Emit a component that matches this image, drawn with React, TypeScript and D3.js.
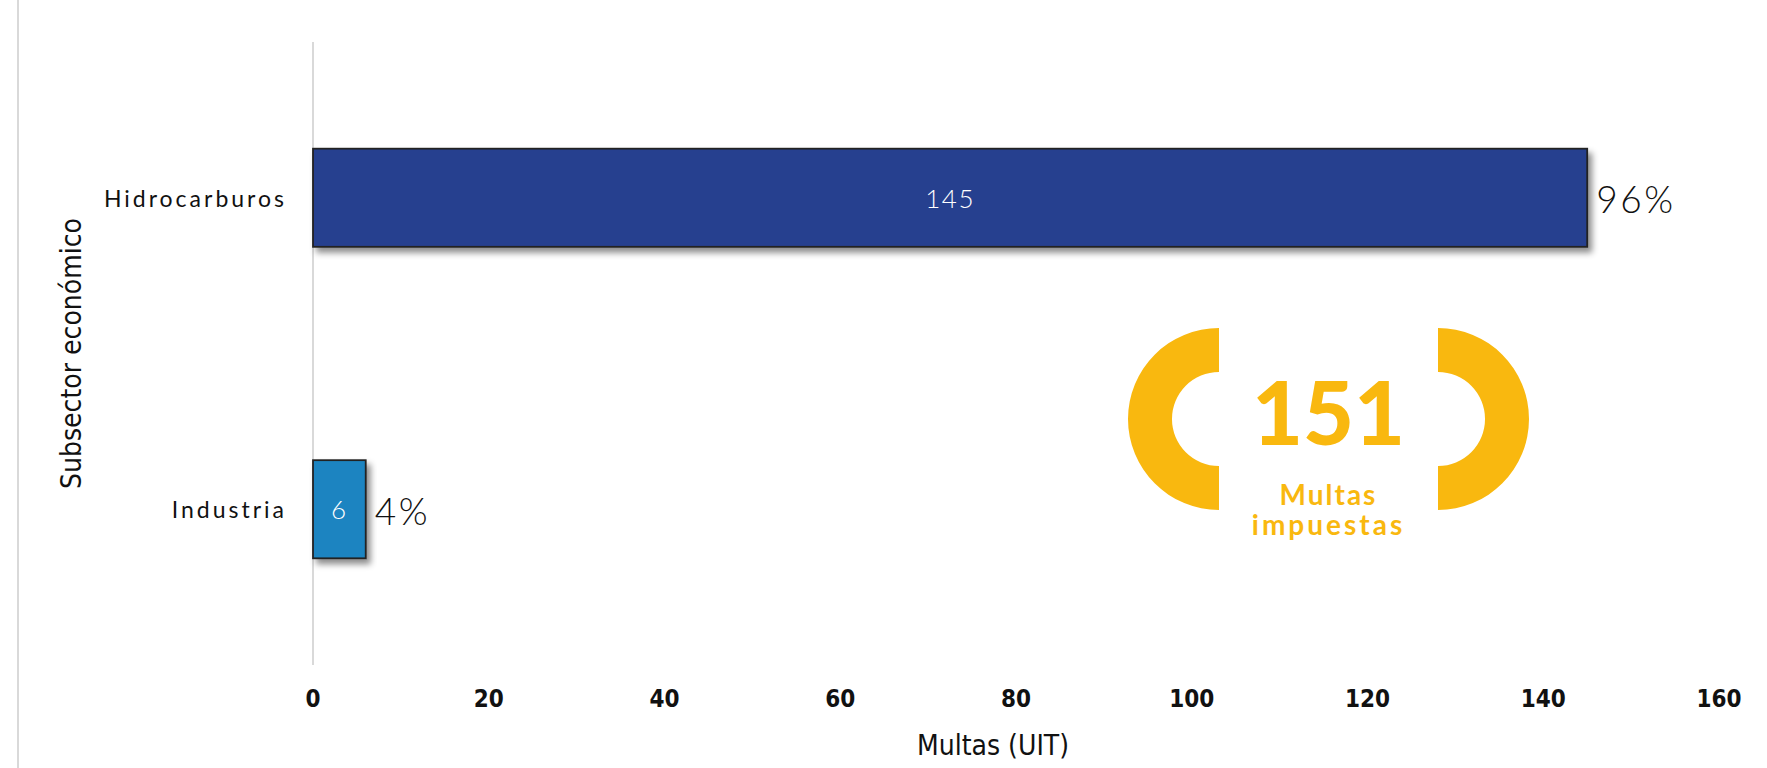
import React, { useEffect } from "react";
import * as d3 from "d3";

const categories = ["Hidrocarburos", "Industria"];
const values = [145, 6];
const shares = ["96%", "4%"];
const barColors = ["#27408F", "#1C84C1"];
const xTicks = [0, 20, 40, 60, 80, 100, 120, 140, 160];
const totalLabel = "151";
const totalCaption = ["Multas", "impuestas"];
const xTitle = "Multas (UIT)";
const yTitle = "Subsector económico";

const W = 1767;
const H = 768;
const plot = { left: 313, right: 1719, top: 42, bottom: 665 };

const catFont = "'Lato', 'Open Sans', sans-serif";
const narrowFont = "'Liberation Sans Narrow', 'DejaVu Sans Condensed', 'Roboto', sans-serif";
const yellow = "#F9B80F";

export default function App() {
  useEffect(() => {
    document.body.style.margin = "0";
  }, []);

  const x = d3.scaleLinear().domain([0, 160]).range([plot.left, plot.right]);
  const y = d3
    .scaleBand<string>()
    .domain(categories)
    .range([plot.top, plot.bottom])
    .paddingInner(0.685)
    .paddingOuter(0.3425);

  const bracketCy = 419;
  const leftCx = 1219;
  const rightCx = 1438;
  const rOuter = 91;
  const rInner = 47;
  const leftArc = d3.arc()({
    innerRadius: rInner,
    outerRadius: rOuter,
    startAngle: Math.PI,
    endAngle: 2 * Math.PI,
  } as any) as string;
  const rightArc = d3.arc()({
    innerRadius: rInner,
    outerRadius: rOuter,
    startAngle: 0,
    endAngle: Math.PI,
  } as any) as string;
  const midX = (leftCx + rightCx) / 2;

  return (
    <svg width={W} height={H} style={{ display: "block", background: "#fff" }}>
      <defs>
        <filter id="shadow" x="-10%" y="-20%" width="130%" height="160%">
          <feDropShadow dx="4" dy="5" stdDeviation="3" floodColor="#000" floodOpacity="0.45" />
        </filter>
      </defs>
      {/* outer left border */}
      <line x1={18} x2={18} y1={0} y2={H} stroke="#d9d9d9" strokeWidth={2} />
      {/* axis line */}
      <line x1={x(0)} x2={x(0)} y1={plot.top} y2={plot.bottom} stroke="#d9d9d9" strokeWidth={2} />

      {/* bars */}
      {categories.map((c, i) => {
        const y0 = y(c)!;
        const bw = y.bandwidth();
        const x1 = x(values[i]);
        return (
          <g key={c}>
            <rect
              x={x(0)}
              y={y0}
              width={x1 - x(0)}
              height={bw}
              fill={barColors[i]}
              stroke="#222"
              strokeWidth={1.8}
              filter="url(#shadow)"
            />
            <text
              x={(x(0) + x1) / 2}
              y={y0 + bw / 2}
              textAnchor="middle"
              dominantBaseline="central"
              fill="#fff"
              fontFamily={catFont}
              fontWeight={300}
              fontSize={26}
              letterSpacing={1.5}
            >
              {values[i]}
            </text>
            <text
              x={x1 + 9}
              y={y0 + bw / 2 + 1}
              dominantBaseline="central"
              fill="#111"
              fontFamily={catFont}
              fontWeight={300}
              fontSize={37}
              letterSpacing={2.6}
            >
              {shares[i]}
            </text>
            <text
              x={x(0) - 26}
              y={y0 + bw / 2}
              textAnchor="end"
              dominantBaseline="central"
              fill="#111"
              fontFamily={catFont}
              fontWeight={400}
              fontSize={23}
              letterSpacing={3}
            >
              {c}
            </text>
          </g>
        );
      })}

      {/* x tick labels */}
      {xTicks.map((t) => (
        <text
          key={t}
          x={x(t)}
          y={699}
          textAnchor="middle"
          dominantBaseline="central"
          fill="#111"
          fontFamily={narrowFont}
          fontWeight={700}
          fontSize={24}
        >
          {t}
        </text>
      ))}

      {/* axis titles */}
      <text
        x={993}
        y={745}
        textAnchor="middle"
        dominantBaseline="central"
        fill="#111"
        fontFamily={narrowFont}
        fontSize={28}
      >
        {xTitle}
      </text>
      <text
        transform={`translate(71, ${(plot.top + plot.bottom) / 2}) rotate(-90)`}
        textAnchor="middle"
        dominantBaseline="central"
        fill="#111"
        fontFamily={narrowFont}
        fontSize={28}
      >
        {yTitle}
      </text>

      {/* total annotation */}
      <path d={leftArc} transform={`translate(${leftCx}, ${bracketCy})`} fill={yellow} />
      <path d={rightArc} transform={`translate(${rightCx}, ${bracketCy})`} fill={yellow} />
      <text
        x={midX}
        y={445}
        textAnchor="middle"
        fill={yellow}
        fontFamily="'Lato', 'Roboto', sans-serif"
        fontWeight={900}
        fontSize={88}
      >
        {totalLabel}
      </text>
      <text
        x={midX}
        y={505}
        textAnchor="middle"
        fill={yellow}
        fontFamily="'Lato', 'Roboto', sans-serif"
        fontWeight={700}
        fontSize={28}
        letterSpacing={2}
      >
        {totalCaption[0]}
      </text>
      <text
        x={midX}
        y={535}
        textAnchor="middle"
        fill={yellow}
        fontFamily="'Lato', 'Roboto', sans-serif"
        fontWeight={700}
        fontSize={28}
        letterSpacing={3}
      >
        {totalCaption[1]}
      </text>
    </svg>
  );
}
